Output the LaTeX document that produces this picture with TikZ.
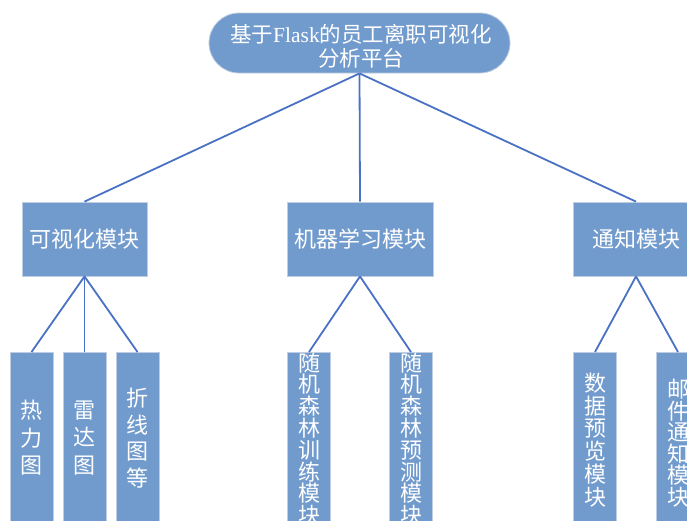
\documentclass[tikz,border=0pt]{standalone}
\usepackage{fontspec}
\setmainfont{Noto Sans CJK SC}
\newfontfamily\latinserif{Liberation Serif}
\definecolor{boxfill}{RGB}{114,155,205}
\definecolor{boxedge}{RGB}{190,205,225}
\definecolor{linec}{RGB}{74,114,196}
\tikzset{
  box/.style={draw=boxedge, fill=boxfill, line width=0.8pt, rectangle, inner sep=0pt},
  conn/.style={draw=linec, line width=1.8pt},
  txt/.style={text=white, inner sep=0pt, align=center},
}
\begin{document}
\begin{tikzpicture}[x=1pt,y=-1pt]
\useasboundingbox (0,0) rectangle (687,520);
\clip (0,0) rectangle (687,520);
% root
\node[box, rounded corners=30pt, minimum width=301pt, minimum height=60pt] (root) at (359.5,43) {};
\node[txt, font=\fontsize{21.5}{24}\selectfont] (roottxt) at (361,46) {基于{\latinserif Flask}的员工离职可视化\\分析平台};
% level 2
\node[box, minimum width=125pt, minimum height=74pt] (vis) at (84.5,239) {};
\node[box, minimum width=146pt, minimum height=74pt] (ml) at (360,239) {};
\node[box, minimum width=126pt, minimum height=74pt] (note) at (636,239) {};
\node[txt, font=\fontsize{22}{26}\selectfont] (vist) at (vis.center) {可视化模块};
\node[txt, font=\fontsize{22}{26}\selectfont] (mlt) at (ml.center) {机器学习模块};
\node[txt, font=\fontsize{22}{26}\selectfont] (notet) at (note.center) {通知模块};
% level 3
\foreach \n/\x in {v1/31.5, v2/84.5, v3/137.5, m1/309, m2/411, n1/595, n2/678}{
  \node[box, minimum width=43pt, minimum height=180pt, anchor=north] (\n) at (\x,352) {};
}
\node[txt, font=\fontsize{22}{27.5}\selectfont] (v1t) at (31.5,438) {热\\力\\图};
\node[txt, font=\fontsize{22}{27.5}\selectfont] (v2t) at (84.5,438) {雷\\达\\图};
\node[txt, font=\fontsize{22}{26.5}\selectfont] (v3t) at (137.5,438) {折\\线\\图\\等};
\node[txt, font=\fontsize{22}{21.8}\selectfont] (m1t) at (309,439) {随\\机\\森\\林\\训\\练\\模\\块};
\node[txt, font=\fontsize{22}{21.8}\selectfont] (m2t) at (411,439) {随\\机\\森\\林\\预\\测\\模\\块};
\node[txt, font=\fontsize{22}{22.8}\selectfont] (n1t) at (595,440) {数\\据\\预\\览\\模\\块};
\node[txt, font=\fontsize{22}{21.5}\selectfont] (n2t) at (678,443) {邮\\件\\通\\知\\模\\块};
% connectors
\draw[conn] (root.south) -- (vis.north);
\draw[conn] (root.south) -- (ml.north);
\draw[conn] (root.south) -- (note.north);
\draw[conn] (vis.south) -- (v1.north);
\draw[conn] (vis.south) -- (v2.north);
\draw[conn] (vis.south) -- (v3.north);
\draw[conn] (ml.south) -- (m1.north);
\draw[conn] (ml.south) -- (m2.north);
\draw[conn] (note.south) -- (n1.north);
\draw[conn] (note.south) -- (n2.north);
\end{tikzpicture}
\end{document}
